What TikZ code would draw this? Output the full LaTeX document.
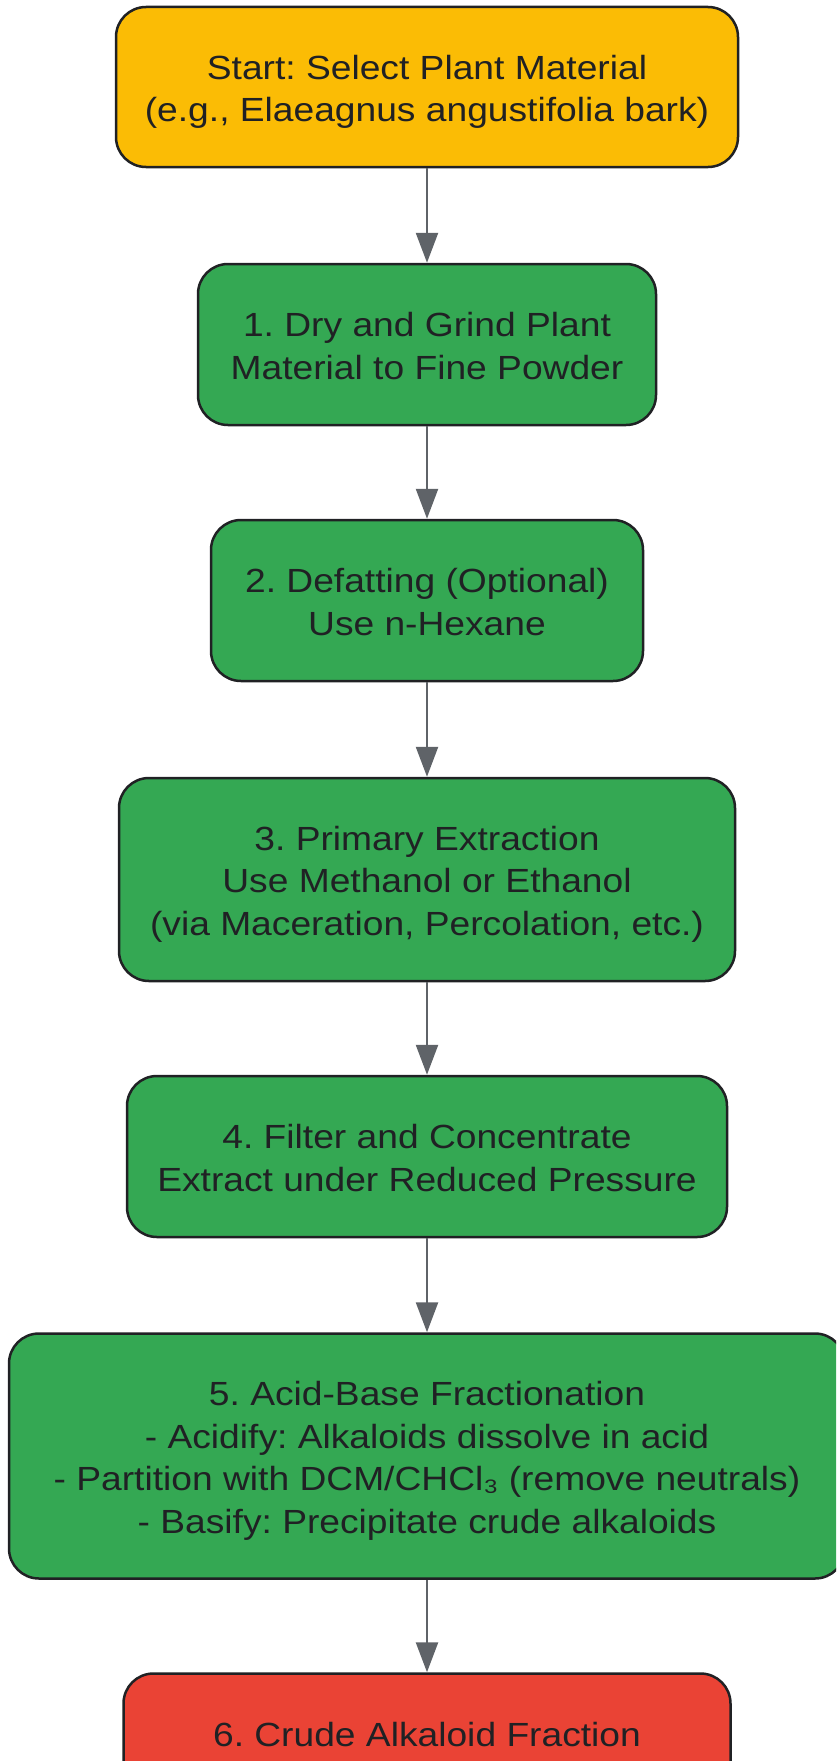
\documentclass[tikz,border=0pt]{standalone}
\usepackage{fontspec}
\setmainfont[FakeStretch=1.11]{Liberation Sans}
\usetikzlibrary{arrows.meta}
\frenchspacing
\definecolor{cyellow}{HTML}{FBBC05}
\definecolor{cgreen}{HTML}{34A853}
\definecolor{cred}{HTML}{EA4335}
\definecolor{ctext}{HTML}{202124}
\definecolor{carrow}{HTML}{5F6368}
\newcommand{\ls}{\rule[-7.85pt]{0pt}{42.5pt}}
\begin{document}
\begin{tikzpicture}[x=1pt,y=-1pt,
  box/.style={draw=ctext, line width=2.5pt, rounded corners=30pt, align=center, text=ctext,
    font=\fontsize{33.5}{42.5}\selectfont, inner sep=0pt},
  conn/.style={draw=carrow, line width=2.5pt, -{Triangle[length=30pt,width=22pt]}}]
\useasboundingbox (0,0) rectangle (836,1761);
\clip (0,0) rectangle (836,1761);
\node[box, fill=cyellow, minimum width=622pt, minimum height=160pt] (s) at (427,87)
  {\ls Start: Select Plant Material\\\ls(e.g., Elaeagnus angustifolia bark)};
\node[box, fill=cgreen, minimum width=458pt, minimum height=161pt] (b1) at (427,344.5)
  {\ls 1. Dry and Grind Plant\\\ls Material to Fine Powder};
\node[box, fill=cgreen, minimum width=432pt, minimum height=161pt] (b2) at (427,600.5)
  {\ls 2. Defatting (Optional)\\\ls Use n-Hexane};
\node[box, fill=cgreen, minimum width=616pt, minimum height=203pt] (b3) at (427,879.5)
  {\ls 3. Primary Extraction\\\ls Use Methanol or Ethanol\\\ls(via Maceration, Percolation, etc.)};
\node[box, fill=cgreen, minimum width=600pt, minimum height=161pt] (b4) at (427,1156.5)
  {\ls 4. Filter and Concentrate\\\ls Extract under Reduced Pressure};
\node[box, fill=cgreen, minimum width=836pt, minimum height=245pt] (b5) at (427,1456)
  {\ls 5. Acid-Base Fractionation\\\ls- Acidify: Alkaloids dissolve in acid\\\ls- Partition with DCM/CHCl₃ (remove neutrals)\\\ls- Basify: Precipitate crude alkaloids};
\node[box, fill=cred, minimum width=607pt, minimum height=161pt] (b6) at (427,1754)
  {\ls 6. Crude Alkaloid Fraction\\\ls};
\draw[conn] (s.south) -- (b1.north);
\draw[conn] (b1.south) -- (b2.north);
\draw[conn] (b2.south) -- (b3.north);
\draw[conn] (b3.south) -- (b4.north);
\draw[conn] (b4.south) -- (b5.north);
\draw[conn] (b5.south) -- (b6.north);
\end{tikzpicture}
\end{document}
